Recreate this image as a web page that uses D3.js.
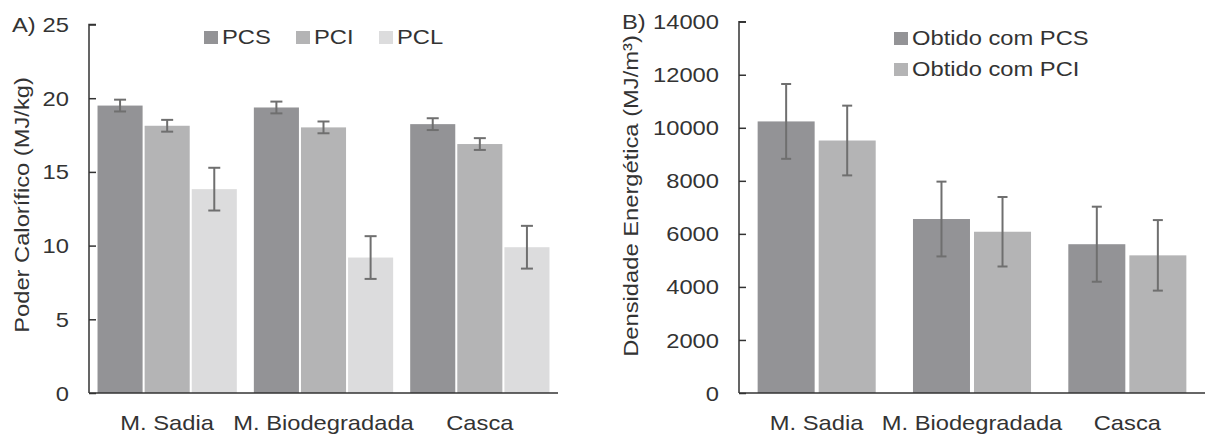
<!DOCTYPE html>
<html><head><meta charset="utf-8">
<script src="https://cdn.jsdelivr.net/npm/d3@7"></script>
<style>
html,body{margin:0;padding:0;background:#fff;}
svg{display:block;}
text{font-family:"Liberation Sans",Arial,sans-serif;fill:#333;}
</style></head>
<body>
<svg id="chart" width="1205" height="434"></svg>
<script>
// ---- Data ----
const categories = ["M. Sadia", "M. Biodegradada", "Casca"];

const seriesA = ["PCS", "PCI", "PCL"];
const pcsValues = [19.5, 19.37, 18.24];
const pcsErrors = [0.4, 0.4, 0.4];
const pciValues = [18.13, 18.02, 16.89];
const pciErrors = [0.4, 0.4, 0.4];
const pclValues = [13.83, 9.19, 9.89];
const pclErrors = [1.45, 1.45, 1.45];
const ticksA = [0, 5, 10, 15, 20, 25];

const seriesB = ["Obtido com PCS", "Obtido com PCI"];
const densPcsValues = [10240, 6560, 5610];
const densPcsErrors = [1410, 1410, 1415];
const densPciValues = [9520, 6080, 5190];
const densPciErrors = [1315, 1310, 1330];
const ticksB = [0, 2000, 4000, 6000, 8000, 10000, 12000, 14000];

const colorsA = ["#939396", "#b4b4b5", "#dcdcdd"];
const colorsB = ["#939396", "#b4b4b5"];

const svg = d3.select("#chart");
const FS = 21;
const SX = 1.13;

function panel(cfg) {
  const g = svg.append("g");
  const x0 = d3.scaleBand().domain(categories).range([cfg.x0, cfg.x1])
    .paddingInner(cfg.pad).paddingOuter(cfg.pad / 2);
  const x1 = d3.scaleBand().domain(cfg.series).range([0, x0.bandwidth()])
    .paddingInner(cfg.innerPad);
  const y = d3.scaleLinear().domain([0, cfg.max]).range([cfg.y0, cfg.yTop]);

  // bars
  cfg.series.forEach((s, si) => {
    categories.forEach((c, ci) => {
      const v = cfg.values[si][ci];
      g.append("rect")
        .attr("x", x0(c) + x1(s))
        .attr("y", y(v))
        .attr("width", x1.bandwidth())
        .attr("height", y(0) - y(v))
        .attr("fill", cfg.colors[si]);
    });
  });
  // error bars
  cfg.series.forEach((s, si) => {
    categories.forEach((c, ci) => {
      const v = cfg.values[si][ci], e = cfg.errors[si][ci];
      const cx = x0(c) + x1(s) + x1.bandwidth() / 2;
      const eg = g.append("g").attr("stroke", "#6f6f6f").attr("stroke-width", 2);
      eg.append("line").attr("x1", cx).attr("x2", cx).attr("y1", y(v + e)).attr("y2", y(v - e));
      [v + e, v - e].forEach(t => eg.append("line")
        .attr("x1", cx - cfg.cap / 2).attr("x2", cx + cfg.cap / 2)
        .attr("y1", y(t)).attr("y2", y(t)));
    });
  });

  // y axis
  const yAxis = d3.axisRight(y).tickValues(cfg.ticks).tickSize(7).tickFormat("");
  const ya = g.append("g").attr("transform", `translate(${cfg.x0},0)`).call(yAxis);
  ya.select(".domain").attr("stroke", "#333").attr("stroke-width", 1.5)
    .attr("d", `M7,${cfg.yTop}H0V${cfg.y0}`);
  ya.selectAll(".tick line").attr("stroke", "#333").attr("stroke-width", 1.5);
  // tick labels
  g.selectAll(".ylab").data(cfg.ticks).enter().append("text")
    .attr("transform", d => `translate(${cfg.x0 - 20},${y(d)}) scale(${SX},1)`)
    .attr("dy", "0.36em")
    .attr("text-anchor", "end").attr("font-size", FS).text(d => d);

  // x axis
  const xAxis = d3.axisBottom(x0).tickSize(0).tickPadding(0);
  const xa = g.append("g").attr("transform", `translate(0,${cfg.y0})`).call(xAxis);
  xa.select(".domain").attr("stroke", "#333").attr("stroke-width", 1.5)
    .attr("d", `M${cfg.x0},0H${cfg.x1}`);
  xa.selectAll(".tick text").attr("font-size", FS).attr("font-family", '"Liberation Sans",Arial,sans-serif')
    .attr("fill", "#333").attr("dy", 0).attr("y", 37)
    .attr("transform", `scale(${SX},1)`);

  // panel letter
  g.append("text").attr("transform", `translate(${cfg.letterX},${y(cfg.max)}) scale(${SX},1)`)
    .attr("dy", "0.36em").attr("font-size", FS).text(cfg.letter);

  // y title
  g.append("text").attr("transform", `translate(${cfg.titleX},${cfg.titleY}) rotate(-90) scale(${SX},1)`)
    .attr("text-anchor", "middle").attr("font-size", FS).text(cfg.title);

  // legend
  cfg.series.forEach((s, si) => {
    const lx = cfg.legend[si][0], ly = cfg.legend[si][1];
    g.append("rect").attr("x", lx).attr("y", ly - 13).attr("width", 14).attr("height", 13)
      .attr("fill", cfg.colors[si]);
    g.append("text").attr("transform", `translate(${lx + 18},${ly}) scale(${SX},1)`)
      .attr("font-size", FS).text(s);
  });
}

panel({
  x0: 89, x1: 558, y0: 393, yTop: 24.5, max: 25, pad: 0.109, innerPad: 0.043,
  series: seriesA, values: [pcsValues, pciValues, pclValues],
  errors: [pcsErrors, pciErrors, pclErrors], colors: colorsA, ticks: ticksA,
  cap: 12, letter: "A)", letterX: 12, title: "Poder Calorífico (MJ/kg)",
  titleX: 29, titleY: 205,
  legend: [[204, 44], [296, 44], [379, 44]]
});

panel({
  x0: 739, x1: 1205, y0: 393, yTop: 21.7, max: 14000, pad: 0.24, innerPad: 0.066,
  series: seriesB, values: [densPcsValues, densPciValues],
  errors: [densPcsErrors, densPciErrors], colors: colorsB, ticks: ticksB,
  cap: 10, letter: "B)", letterX: 622, title: "Densidade Energética (MJ/m³)",
  titleX: 638, titleY: 196,
  legend: [[894, 45], [894, 76]]
});
</script>
</body></html>
